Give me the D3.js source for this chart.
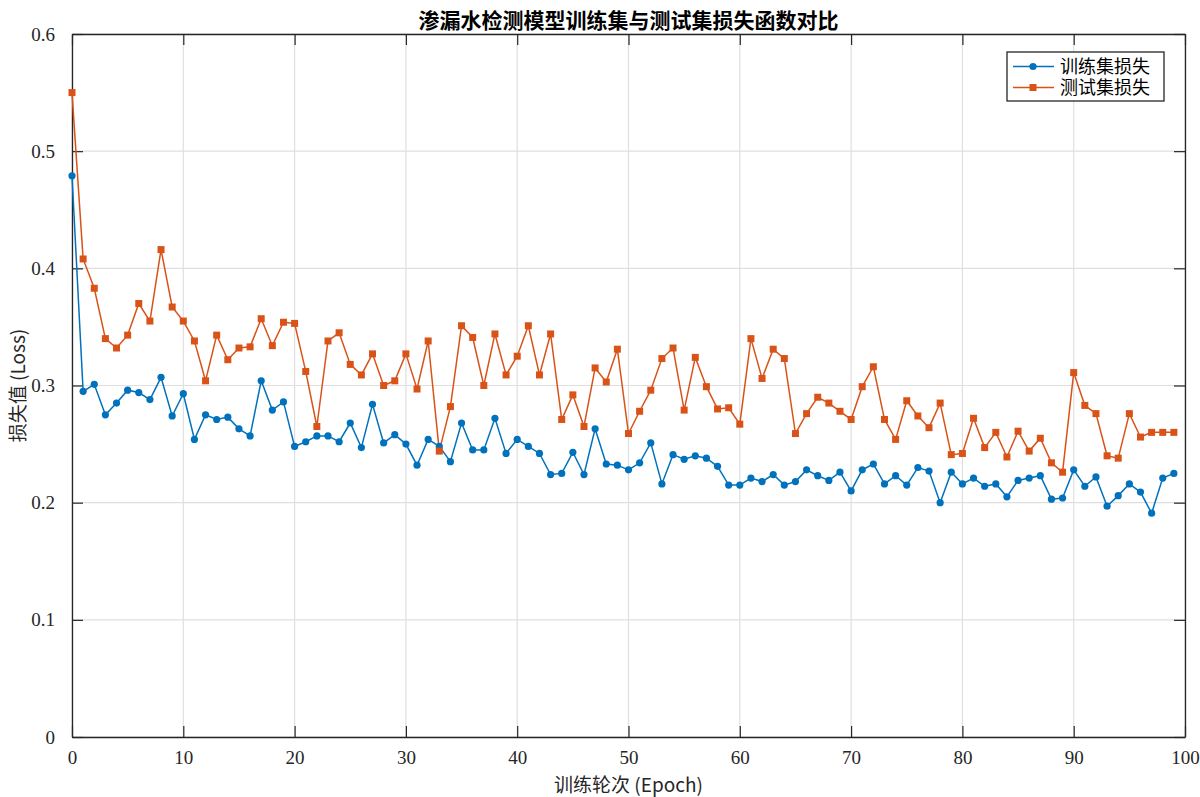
<!DOCTYPE html>
<html>
<head>
<meta charset="utf-8">
<script src="https://cdn.jsdelivr.net/npm/d3@7"></script>
<style>
  body { margin: 0; background: #fff; }
  svg text { font-family: "Liberation Serif", "Noto Sans CJK SC", serif; fill: #262626; }
  .cjk { font-family: "Noto Sans CJK SC", sans-serif; }
</style>
</head>
<body>
<div id="chart"></div>
<script>
// epochs 0..99
const epochs = d3.range(0, 100);

const trainLoss = [
  0.479, 0.295, 0.301, 0.275, 0.285, 0.296, 0.294, 0.288, 0.307, 0.274,
  0.293, 0.254, 0.275, 0.271, 0.273, 0.263, 0.257, 0.304, 0.279, 0.286,
  0.248, 0.252, 0.257, 0.257, 0.252, 0.268, 0.247, 0.284, 0.251, 0.258,
  0.250, 0.232, 0.254, 0.248, 0.235, 0.268, 0.245, 0.245, 0.272, 0.242,
  0.254, 0.248, 0.242, 0.224, 0.225, 0.243, 0.224, 0.263, 0.233, 0.232,
  0.228, 0.234, 0.251, 0.216, 0.241, 0.237, 0.240, 0.238, 0.231, 0.215,
  0.215, 0.221, 0.218, 0.224, 0.215, 0.218, 0.228, 0.223, 0.219, 0.226,
  0.210, 0.228, 0.233, 0.216, 0.223, 0.215, 0.230, 0.227, 0.200, 0.226,
  0.216, 0.221, 0.214, 0.216, 0.205, 0.219, 0.221, 0.223, 0.203, 0.204,
  0.228, 0.214, 0.222, 0.197, 0.206, 0.216, 0.209, 0.191, 0.221, 0.225
];

const testLoss = [
  0.550, 0.408, 0.383, 0.340, 0.332, 0.343, 0.370, 0.355, 0.416, 0.367,
  0.355, 0.338, 0.304, 0.343, 0.322, 0.332, 0.333, 0.357, 0.334, 0.354,
  0.353, 0.312, 0.265, 0.338, 0.345, 0.318, 0.309, 0.327, 0.300, 0.304,
  0.327, 0.297, 0.338, 0.244, 0.282, 0.351, 0.341, 0.300, 0.344, 0.309,
  0.325, 0.351, 0.309, 0.344, 0.271, 0.292, 0.265, 0.315, 0.303, 0.331,
  0.259, 0.278, 0.296, 0.323, 0.332, 0.279, 0.324, 0.299, 0.280, 0.281,
  0.267, 0.340, 0.306, 0.331, 0.323, 0.259, 0.276, 0.290, 0.285, 0.278,
  0.271, 0.299, 0.316, 0.271, 0.254, 0.287, 0.274, 0.264, 0.285, 0.241,
  0.242, 0.272, 0.247, 0.260, 0.239, 0.261, 0.244, 0.255, 0.234, 0.226,
  0.311, 0.283, 0.276, 0.240, 0.238, 0.276, 0.256, 0.260, 0.260, 0.260
];

const xTicks = [0, 10, 20, 30, 40, 50, 60, 70, 80, 90, 100];
const yTicks = [0, 0.1, 0.2, 0.3, 0.4, 0.5, 0.6];
const seriesNames = ['训练集损失', '测试集损失'];
const seriesColors = ['#0072BD', '#D95319'];

const titleText = '渗漏水检测模型训练集与测试集损失函数对比';
const xLabel = '训练轮次 (Epoch)';
const yLabel = '损失值 (Loss)';

const config = {
  width: 1200,
  height: 797,
  margin: {top: 34, right: 15, bottom: 60, left: 72},
  tickLength: 11
};

const innerW = config.width - config.margin.left - config.margin.right;
const innerH = config.height - config.margin.top - config.margin.bottom;

const svg = d3.select('#chart').append('svg')
  .attr('width', config.width)
  .attr('height', config.height);

const chart = svg.append('g')
  .attr('transform', `translate(${config.margin.left},${config.margin.top})`);

const x = d3.scaleLinear().domain([0, 100]).range([0, innerW]);
const y = d3.scaleLinear().domain([0, 0.6]).range([innerH, 0]);

// grid lines
chart.append('g').selectAll('line')
  .data(xTicks)
  .join('line')
  .attr('x1', d => x(d)).attr('x2', d => x(d))
  .attr('y1', 0).attr('y2', innerH)
  .attr('stroke', '#dfdfdf').attr('stroke-width', 1.2);

chart.append('g').selectAll('line')
  .data(yTicks)
  .join('line')
  .attr('y1', d => y(d)).attr('y2', d => y(d))
  .attr('x1', 0).attr('x2', innerW)
  .attr('stroke', '#dfdfdf').attr('stroke-width', 1.2);

// axes, ticks pointing inward (MATLAB look)
chart.append('g')
  .attr('class', 'x-axis')
  .attr('transform', `translate(0,${innerH})`)
  .call(d3.axisBottom(x).tickValues(xTicks).tickSizeInner(-config.tickLength).tickSizeOuter(0).tickPadding(14).tickFormat(d3.format('d')));

chart.append('g')
  .attr('class', 'y-axis')
  .call(d3.axisLeft(y).tickValues(yTicks).tickSizeInner(-config.tickLength).tickSizeOuter(0).tickPadding(17).tickFormat(d => d === 0 ? '0' : d3.format('.1f')(d)));

chart.append('g')
  .attr('transform', `translate(${innerW},0)`)
  .call(d3.axisRight(y).tickValues(yTicks).tickSizeInner(-config.tickLength).tickSizeOuter(0).tickFormat(''));

chart.append('g')
  .call(d3.axisTop(x).tickValues(xTicks).tickSizeInner(-config.tickLength).tickSizeOuter(0).tickFormat(''));

chart.selectAll('.domain').attr('stroke', '#262626').attr('stroke-width', 1.3);
chart.selectAll('.tick line').attr('stroke', '#262626').attr('stroke-width', 1.2);
chart.selectAll('.tick text')
  .attr('fill', '#262626')
  .style('font-size', '19px')
  .style('font-family', '"Liberation Serif", serif');

// data series
const series = [trainLoss, testLoss];

const line = d3.line()
  .x((d, i) => x(epochs[i]))
  .y(d => y(d));

series.forEach((values, s) => {
  chart.append('path')
    .datum(values)
    .attr('fill', 'none')
    .attr('stroke', seriesColors[s])
    .attr('stroke-width', 1.5)
    .attr('d', line);
});

// train markers: circles
chart.append('g').selectAll('circle')
  .data(trainLoss)
  .join('circle')
  .attr('cx', (d, i) => x(epochs[i]))
  .attr('cy', d => y(d))
  .attr('r', 3.6)
  .attr('fill', seriesColors[0]);

// test markers: squares
chart.append('g').selectAll('rect')
  .data(testLoss)
  .join('rect')
  .attr('x', (d, i) => x(epochs[i]) - 3.5)
  .attr('y', d => y(d) - 3.5)
  .attr('width', 7)
  .attr('height', 7)
  .attr('fill', seriesColors[1]);

// title and axis labels
svg.append('text')
  .attr('class', 'cjk')
  .attr('x', config.margin.left + innerW / 2)
  .attr('y', 28)
  .attr('text-anchor', 'middle')
  .style('font-size', '21px')
  .style('font-weight', 'bold')
  .style('fill', '#000')
  .text(titleText);

svg.append('text')
  .attr('class', 'cjk')
  .attr('x', config.margin.left + innerW / 2)
  .attr('y', 792)
  .attr('text-anchor', 'middle')
  .style('font-size', '19px')
  .text(xLabel);

svg.append('text')
  .attr('class', 'cjk')
  .attr('transform', `translate(25,${config.margin.top + innerH / 2}) rotate(-90)`)
  .attr('text-anchor', 'middle')
  .style('font-size', '19px')
  .text(yLabel);

// legend
const legend = svg.append('g')
  .attr('transform', 'translate(1007,52)');

legend.append('rect')
  .attr('width', 157)
  .attr('height', 49)
  .attr('fill', '#fff')
  .attr('stroke', '#262626')
  .attr('stroke-width', 1.3);

seriesNames.forEach((name, s) => {
  const rowY = 14.5 + s * 21;
  legend.append('line')
    .attr('x1', 6).attr('x2', 47)
    .attr('y1', rowY).attr('y2', rowY)
    .attr('stroke', seriesColors[s])
    .attr('stroke-width', 1.5);
  if (s === 0) {
    legend.append('circle').attr('cx', 26).attr('cy', rowY).attr('r', 3.6).attr('fill', seriesColors[s]);
  } else {
    legend.append('rect').attr('x', 22.5).attr('y', rowY - 3.5).attr('width', 7).attr('height', 7).attr('fill', seriesColors[s]);
  }
  legend.append('text')
    .attr('class', 'cjk')
    .attr('x', 53)
    .attr('y', rowY)
    .attr('dy', '0.35em')
    .style('font-size', '18px')
    .style('fill', '#000')
    .text(name);
});
</script>
</body>
</html>
